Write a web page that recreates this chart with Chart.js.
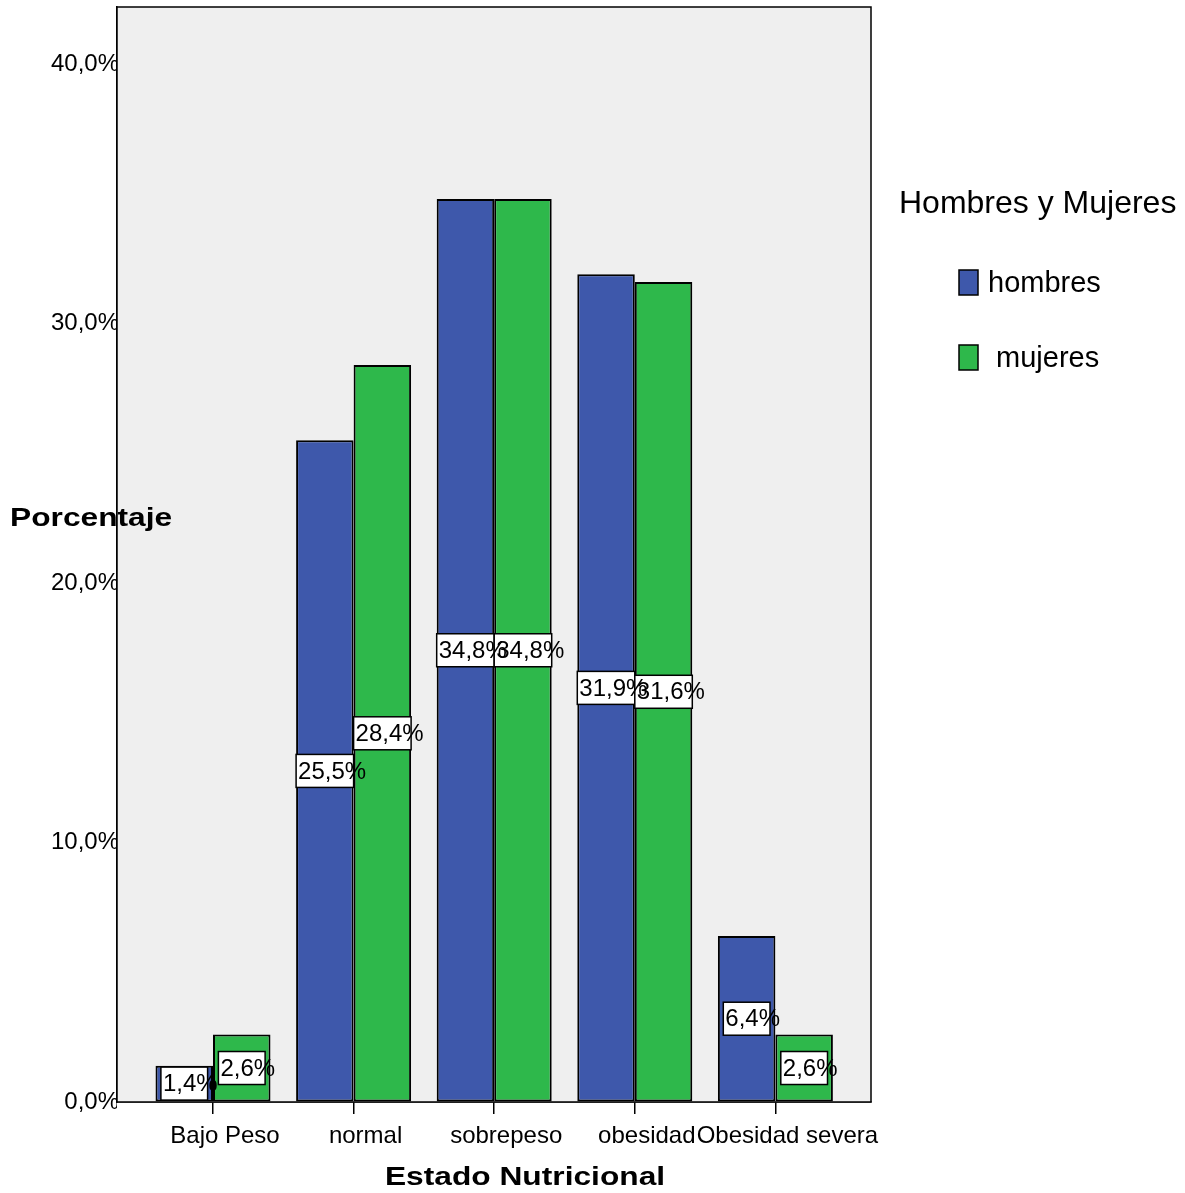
<!DOCTYPE html>
<html>
  <head>
    <meta charset="UTF-8" />
    <title>Estado Nutricional</title>
    <style>
      html, body { margin: 0; padding: 0; background: #fff; }
      #wrap { width: 1185px; height: 1193px; }
    </style>
  </head>
  <body>
    <div id="wrap"><canvas id="chart" width="1185" height="1193"></canvas></div>
    <script src="https://cdn.jsdelivr.net/npm/chart.js"></script>
    <script>
      const categorias = ['Bajo Peso', 'normal', 'sobrepeso', 'obesidad', 'Obesidad severa'];
      const hombres = [1.4, 25.5, 34.8, 31.9, 6.4];
      const mujeres = [2.6, 28.4, 34.8, 31.6, 2.6];
      const yTicks = [0, 10, 20, 30, 40];

      const FONT = '"Liberation Sans", Arial, sans-serif';
      const AZUL = '#3e58ab';
      const VERDE = '#2eb84b';

      const fmt = (v) => v.toFixed(1).replace('.', ',') + '%';

      // gray plot background and black frame around the plot area
      const marco = {
        id: 'marco',
        beforeDatasetsDraw(chart) {
          const { ctx, chartArea: a } = chart;
          ctx.save();
          ctx.fillStyle = '#efefef';
          ctx.fillRect(a.left, a.top, a.right - a.left, a.bottom - a.top);
          ctx.restore();
        },
        afterDraw(chart) {
          const { ctx, chartArea: a } = chart;
          ctx.save();
          ctx.strokeStyle = '#000';
          ctx.lineWidth = 1.5;
          ctx.strokeRect(a.left, a.top, a.right - a.left, a.bottom - a.top);
          ctx.restore();
        },
      };

      // white value boxes in the middle of each bar
      const etiquetas = {
        id: 'etiquetas',
        afterDatasetsDraw(chart) {
          const { ctx } = chart;
          ctx.save();
          ctx.font = '24px ' + FONT;
          const items = [];
          chart.data.datasets.forEach((ds, di) => {
            chart.getDatasetMeta(di).data.forEach((bar, i) => {
              const txt = fmt(ds.data[i].y);
              const tw = ctx.measureText(txt).width;
              const w = Math.min(bar.width, tw - 8);
              const cy = (bar.y + bar.base) / 2;
              const x0 = bar.x - w / 2;
              items.push({ txt, x0, w, cy });
            });
          });
          items.forEach((it) => {
            ctx.fillStyle = '#fff';
            ctx.fillRect(it.x0, it.cy - 16.5, it.w, 33);
            ctx.strokeStyle = '#000';
            ctx.lineWidth = 1.5;
            ctx.strokeRect(it.x0, it.cy - 16.5, it.w, 33);
          });
          ctx.fillStyle = '#000';
          ctx.textBaseline = 'middle';
          ctx.textAlign = 'left';
          items.forEach((it) => ctx.fillText(it.txt, it.x0 + 2, it.cy + 1));
          ctx.restore();
        },
      };

      // axis titles and the legend on the right
      const textos = {
        id: 'textos',
        afterDraw(chart) {
          const { ctx } = chart;
          ctx.save();
          ctx.fillStyle = '#000';
          ctx.textBaseline = 'middle';
          ctx.font = 'bold 26px ' + FONT;

          ctx.save();
          ctx.translate(10, 519);
          ctx.scale(1.22, 1);
          ctx.fillText('Porcentaje', 0, 0);
          ctx.restore();

          ctx.save();
          ctx.translate(525, 1178);
          ctx.scale(1.22, 1);
          ctx.textAlign = 'center';
          ctx.fillText('Estado Nutricional', 0, 0);
          ctx.restore();

          ctx.font = '32px ' + FONT;
          ctx.fillText('Hombres y Mujeres', 899, 204);

          ctx.font = '29px ' + FONT;
          const filas = [283, 358];
          chart.data.datasets.forEach((ds, i) => {
            const y = filas[i];
            ctx.fillStyle = ds.backgroundColor;
            ctx.fillRect(959, y - 13, 19, 25);
            ctx.strokeStyle = '#000';
            ctx.lineWidth = 1.5;
            ctx.strokeRect(959, y - 13, 19, 25);
            ctx.fillStyle = '#000';
            ctx.fillText(ds.label, 988, y + 1);
          });
          ctx.restore();
        },
      };

      const ctx = document.getElementById('chart').getContext('2d');
      new Chart(ctx, {
        type: 'bar',
        data: {
          datasets: [
            {
              label: 'hombres',
              data: categorias.map((c, i) => ({ x: i + 1, y: hombres[i] })),
              backgroundColor: AZUL,
              borderColor: '#000',
              borderWidth: 2,
              borderSkipped: false,
            },
            {
              label: ' mujeres',
              data: categorias.map((c, i) => ({ x: i + 1, y: mujeres[i] })),
              backgroundColor: VERDE,
              borderColor: '#000',
              borderWidth: 2,
              borderSkipped: false,
            },
          ],
        },
        options: {
          responsive: false,
          animation: false,
          categoryPercentage: 0.818,
          barPercentage: 1,
          layout: { padding: { top: 7, right: 314, left: 0, bottom: 0 } },
          scales: {
            x: {
              type: 'linear',
              offset: false,
              min: 0.3172,
              max: 5.68,
              afterBuildTicks: (axis) => {
                axis.ticks = categorias.map((c, i) => ({ value: i + 1 }));
              },
              afterFit: (axis) => { axis.height = 91; },
              grid: { offset: false, drawOnChartArea: false, drawTicks: true, tickLength: 12, color: '#000', lineWidth: 1.5 },
              border: { display: true, color: '#000', width: 1.5 },
              ticks: {
                color: '#000',
                font: { family: FONT, size: 24 },
                padding: 8,
                labelOffset: 12,
                maxRotation: 0,
                autoSkip: false,
                callback: (v, i) => categorias[i],
              },
            },
            y: {
              min: 0,
              max: 42.2,
              afterBuildTicks: (axis) => {
                axis.ticks = yTicks.map((v) => ({ value: v }));
              },
              afterFit: (axis) => {
                axis.width = 117;
                axis.paddingTop = 0;
                axis.paddingBottom = 0;
              },
              grid: { drawOnChartArea: false, drawTicks: false },
              border: { display: true, color: '#000', width: 1.5 },
              ticks: {
                color: '#000',
                font: { family: FONT, size: 24 },
                padding: -2,
                callback: (v) => fmt(v),
              },
            },
          },
          plugins: {
            legend: { display: false },
            tooltip: { enabled: false },
          },
        },
        plugins: [marco, etiquetas, textos],
      });
    </script>
  </body>
</html>
